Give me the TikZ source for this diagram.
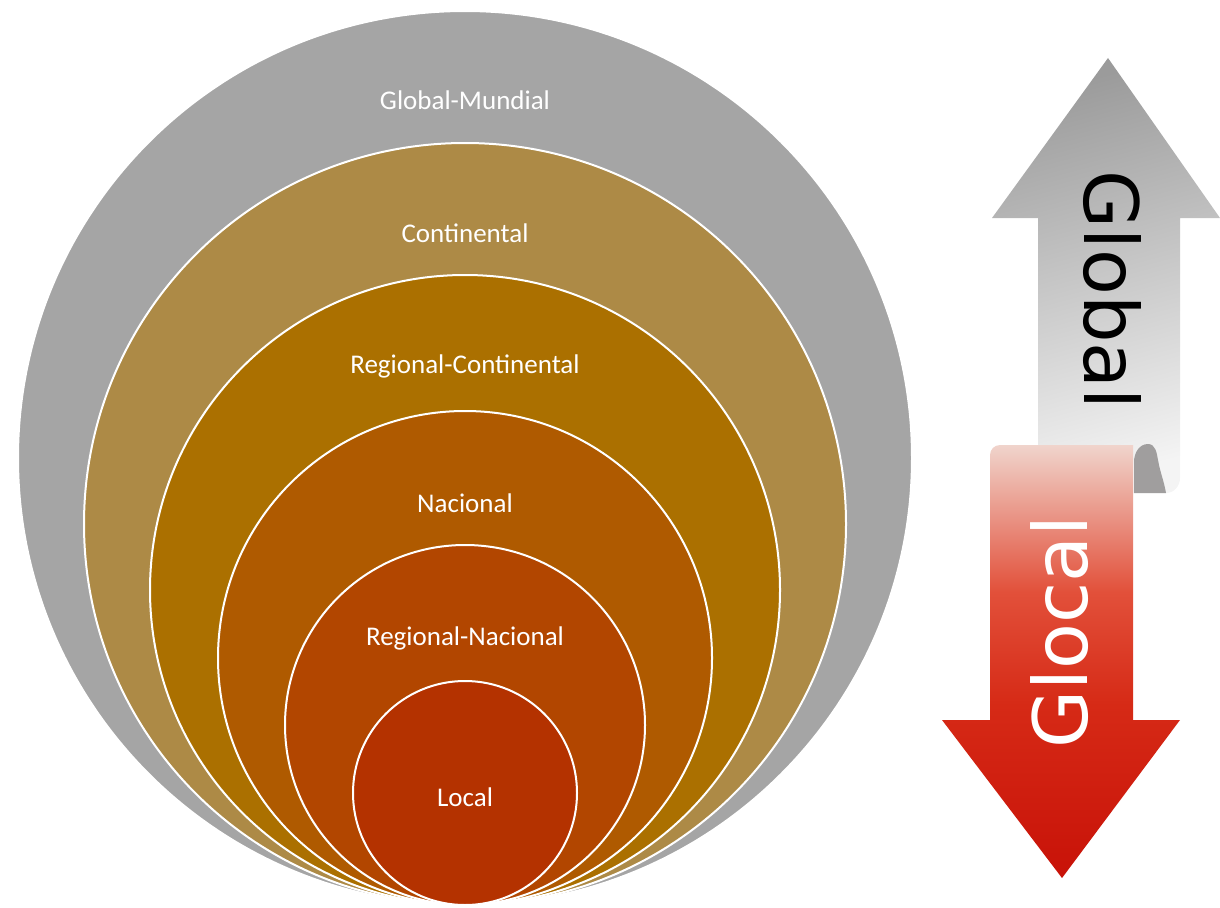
\documentclass[tikz,border=0pt]{standalone}
\usepackage{tikz}
\usepackage{xcolor}
\usepackage{fontspec}
\setmainfont{Carlito}
\newfontfamily\arrowfont{DejaVu Sans}

\definecolor{ringGray}{RGB}{165,165,165}
\definecolor{ringCont}{RGB}{173,138,70}
\definecolor{ringRegCont}{RGB}{171,112,0}
\definecolor{ringNac}{RGB}{175,90,0}
\definecolor{ringRegNac}{RGB}{178,70,0}
\definecolor{ringLocal}{RGB}{180,50,0}
\definecolor{upTop}{RGB}{155,155,155}
\definecolor{upBottom}{RGB}{244,244,244}
\definecolor{downTop}{RGB}{240,212,204}
\definecolor{downMid}{RGB}{226,80,58}
\definecolor{downRed}{RGB}{214,42,22}
\definecolor{downBottom}{RGB}{200,18,8}
\definecolor{curlGray}{RGB}{160,158,158}

\pgfdeclareverticalshading{glocalfade}{100bp}{
  color(0bp)=(downBottom); color(25bp)=(downBottom); color(45bp)=(downRed);
  color(58bp)=(downMid); color(75bp)=(downTop); color(100bp)=(downTop)}

\tikzset{
  ring/.style = {shape = circle, draw = white, line width = 2pt, inner sep = 0pt},
  ringlabel/.style = {text = white, font = \fontsize{27}{27}\selectfont}
}

\begin{document}
\begin{tikzpicture}[x = 1pt, y = -1pt]
\useasboundingbox (0, 0) rectangle (1220, 907);

% nested scales, all touching at the bottom
\node [ring, fill = ringGray, minimum size = 894pt] (mundial) at (465, 458) {};
\node [ring, fill = ringCont, minimum size = 762pt] (continental) at (465, 524) {};
\node [ring, fill = ringRegCont, minimum size = 630pt] (regcont) at (465, 590) {};
\node [ring, fill = ringNac, minimum size = 494pt] (nacional) at (465, 658) {};
\node [ring, fill = ringRegNac, minimum size = 360pt] (regnac) at (465, 725) {};
\node [ring, fill = ringLocal, minimum size = 224pt] (local) at (465, 793) {};

\node [ringlabel] (lmundial) at (465, 100) {Global-Mundial};
\node [ringlabel] (lcontinental) at (465, 233) {Continental};
\node [ringlabel] (lregcont) at (465, 366) {Regional-Continental};
\node [ringlabel] (lnacional) at (465, 503) {Nacional};
\node [ringlabel] (lregnac) at (465, 638) {Regional-Nacional};
\node [ringlabel] (llocal) at (465, 797) {Local};

% up arrow
\shade [top color = upTop, bottom color = upBottom, shading angle = 15]
  (1108, 58) -- (1220, 218) -- (1180, 218) -- (1180, 478)
  to [out = -90, in = 0] (1166, 493) -- (1038, 493) -- (1038, 218)
  -- (992, 218) -- cycle;
\node [rotate = -90, font = \arrowfont\fontsize{75}{75}\selectfont] (global) at (1112, 290) {Global};

% down arrow with its curl
\fill [curlGray] (1134, 493) -- (1134, 462)
  to [out = 90, in = 180] (1148, 444)
  to [out = 0, in = 100] (1158, 460)
  to [out = -80, in = 100] (1166, 493) -- cycle;
\shade [shading = glocalfade]
  (990, 455) to [out = 90, in = 180] (1000, 445) -- (1133, 445) -- (1133, 720)
  -- (1180, 720) -- (1062, 878) -- (942, 720) -- (990, 720) -- cycle;
\node [rotate = 90, text = white, font = \arrowfont\fontsize{75}{75}\selectfont] (glocal) at (1060, 632) {Glocal};
\end{tikzpicture}
\end{document}
